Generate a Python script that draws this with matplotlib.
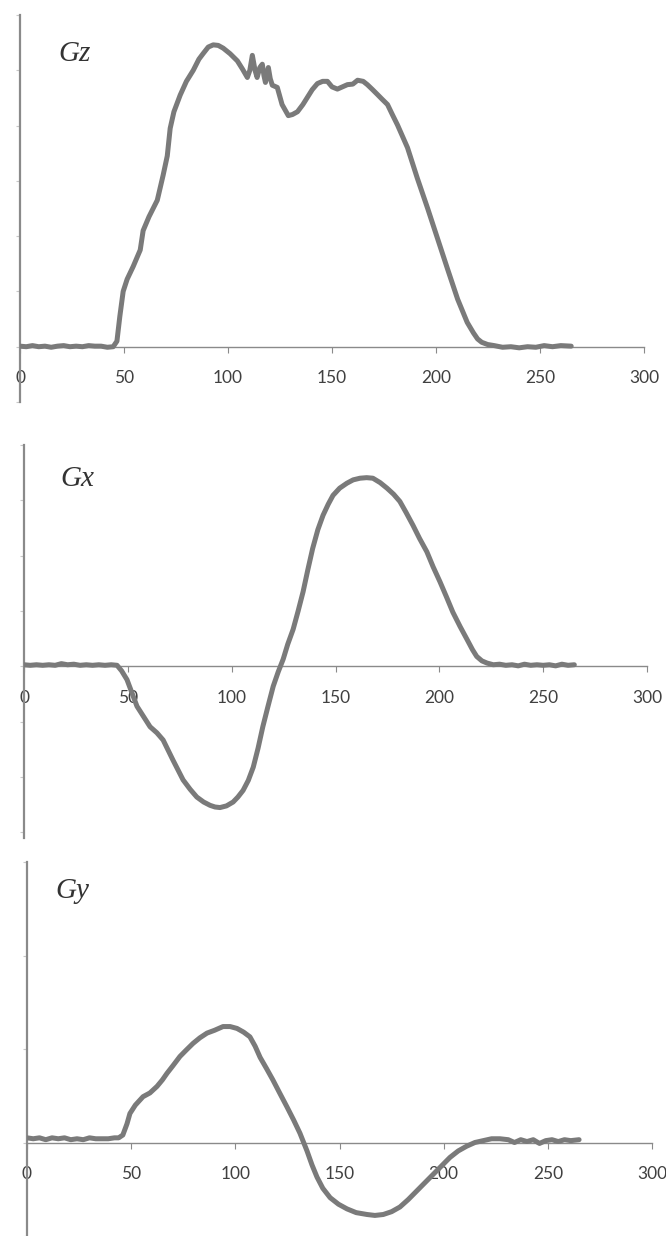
import matplotlib
matplotlib.use("Agg")
import matplotlib.pyplot as plt

# ---------------- data ----------------
gz_x = [0, 3, 6, 9, 12, 15, 18, 21, 24, 27, 30, 33, 36, 39, 42, 44.8, 46.6, 48, 49.6, 51.5,
        54.4, 57.8, 59.2, 62, 66, 68.8, 70.8, 72.2, 74, 77, 80, 83.3, 86, 88, 90.5, 92.9,
        95.3, 97.7, 101, 104.5, 107, 109.3, 110.5, 111.7, 113, 114, 115.3, 116.5, 117.3, 118,
        119.4, 120.3, 121.3, 123.7, 126, 129, 131, 133.4, 136, 138, 140.5, 143, 145.5, 147.8,
        150, 152.6, 155, 157.4, 160, 162.3, 165, 167, 169.5, 171.9, 174, 176.7, 179, 181.5,
        186.3, 191, 196, 200.8, 205.6, 210.4, 215, 218, 220, 222, 224.8, 228, 232, 236, 240,
        244, 248, 252, 256, 260, 265]
gz_y = [0.01, 0.0, 0.02, 0.0, 0.01, -0.01, 0.01, 0.02, 0.0, 0.01, 0.0, 0.02, 0.01, 0.01,
        -0.01, 0.0, 0.1, 0.55, 1.0, 1.22, 1.45, 1.75, 2.1, 2.35, 2.65, 3.1, 3.45, 3.95, 4.25,
        4.55, 4.8, 5.0, 5.2, 5.3, 5.42, 5.46, 5.45, 5.4, 5.3, 5.17, 5.02, 4.87, 5.0, 5.27, 5.0,
        4.87, 5.05, 5.11, 4.9, 4.78, 5.05, 4.85, 4.73, 4.69, 4.38, 4.18, 4.2, 4.25, 4.38, 4.5,
        4.65, 4.76, 4.8, 4.8, 4.7, 4.66, 4.7, 4.74, 4.75, 4.82, 4.8, 4.74, 4.65, 4.56, 4.48,
        4.38, 4.2, 4.01, 3.6, 3.05, 2.5, 1.95, 1.4, 0.86, 0.44, 0.25, 0.14, 0.08, 0.04, 0.02,
        -0.01, 0.0, -0.02, 0.0, -0.01, 0.02, 0.0, 0.02, 0.01]

gx_x = [0, 3, 6, 9, 12, 15, 18, 21, 24, 27, 30, 33, 36, 39, 42, 44.8, 47, 49.6, 54.4, 60.7,
        64, 67, 71.7, 76.6, 80, 83.2, 86.5, 89.6, 92, 94.4, 97.5, 100.7, 103, 105.5, 108,
        110.4, 112.7, 115, 117.5, 120, 122.4, 124.8, 127, 129.6, 132, 134.4, 136.7, 139,
        141.5, 144, 146.5, 148.8, 152, 155.5, 158.5, 161.8, 165, 168, 171.5, 174.8, 178, 181,
        184, 187.3, 190.5, 194, 197, 200.3, 203.5, 206.5, 210, 213.3, 216, 218, 220.5, 223,
        226, 229, 232, 235, 238, 241, 244, 247, 250, 253, 256, 259, 262, 265]
gx_y = [0.03, 0.02, 0.03, 0.02, 0.03, 0.02, 0.05, 0.03, 0.04, 0.02, 0.03, 0.02, 0.03, 0.02,
        0.03, 0.02, -0.08, -0.24, -0.72, -1.09, -1.2, -1.33, -1.69, -2.05, -2.22, -2.36,
        -2.45, -2.51, -2.54, -2.55, -2.52, -2.45, -2.36, -2.24, -2.06, -1.82, -1.48, -1.09,
        -0.72, -0.36, -0.1, 0.13, 0.4, 0.67, 1.0, 1.35, 1.75, 2.13, 2.47, 2.73, 2.93, 3.09,
        3.22, 3.31, 3.37, 3.4, 3.41, 3.4, 3.32, 3.22, 3.11, 2.98, 2.78, 2.55, 2.31, 2.07, 1.8,
        1.53, 1.25, 0.98, 0.72, 0.49, 0.3, 0.18, 0.1, 0.06, 0.03, 0.04, 0.02, 0.03, 0.01, 0.04,
        0.02, 0.03, 0.02, 0.03, 0.01, 0.04, 0.02, 0.03]

gy_x = [0, 3, 6, 9, 12, 15, 18, 21, 24, 27, 30, 33, 36, 39, 42, 44, 46, 48, 49.4, 52, 55.7,
        59, 62.4, 65, 67.2, 70, 73.4, 76.5, 79.7, 83, 86.4, 90, 94.1, 97.5, 100.8, 104, 107,
        109.5, 111.9, 115, 118, 121.5, 124.8, 128, 131, 134.4, 136.8, 139.2, 142, 145.5,
        149.5, 153.6, 158, 163.2, 167, 171, 175, 179, 183, 187, 191, 195, 199, 203, 207, 211,
        215, 219, 223, 227, 231, 234, 237, 240, 243, 246, 249, 252, 255, 258, 261, 265]
gy_y = [0.05, 0.04, 0.05, 0.03, 0.05, 0.04, 0.05, 0.03, 0.04, 0.03, 0.05, 0.04, 0.04, 0.04,
        0.05, 0.05, 0.08, 0.2, 0.31, 0.4, 0.49, 0.53, 0.6, 0.67, 0.74, 0.82, 0.92, 0.99, 1.06,
        1.12, 1.17, 1.2, 1.24, 1.24, 1.22, 1.18, 1.13, 1.03, 0.91, 0.79, 0.67, 0.52, 0.38,
        0.24, 0.1, -0.09, -0.24, -0.37, -0.49, -0.59, -0.66, -0.71, -0.75, -0.77, -0.78,
        -0.77, -0.74, -0.69, -0.61, -0.52, -0.43, -0.34, -0.25, -0.16, -0.09, -0.04, 0.0,
        0.02, 0.04, 0.04, 0.03, 0.0, 0.03, 0.01, 0.03, -0.01, 0.02, 0.03, 0.01, 0.03,
        0.02, 0.03]

x_ticks = [0, 50, 100, 150, 200, 250, 300]
x_tick_labels = ["0", "50", "100", "150", "200", "250", "300"]
panel_labels = ["Gz", "Gx", "Gy"]

# ---------------- layout ----------------
W, H = 666, 1236
fig = plt.figure(figsize=(W / 100, H / 100), dpi=100)
fig.patch.set_facecolor("white")

panels = [
    (gz_x, gz_y, (20, 644, 15, 402), (-1, 6), [-1, 0, 1, 2, 3, 4, 5, 6], (58, 61)),
    (gx_x, gx_y, (24, 647, 445, 838), (-3.1, 4.0), [-3, -2, -1, 0, 1, 2, 3, 4], (60, 486)),
    (gy_x, gy_y, (27, 652, 862, 1236), (-1, 3), [-1, 0, 1, 2, 3], (55, 898)),
]

line_col = "#7a7a7a"
axis_col = "#8a8a8a"
text_col = "#404040"

for (xs, ys, (l, r, t, b), ylim, yt, (tx, ty)), lab in zip(panels, panel_labels):
    ax = fig.add_axes([l / W, 1 - b / H, (r - l) / W, (b - t) / H])
    ax.set_facecolor("none")
    ax.plot(xs, ys, color=line_col, lw=3.6, solid_capstyle="round", solid_joinstyle="round",
            zorder=3)
    ax.set_xlim(0, 300)
    ax.set_ylim(*ylim)
    for s in ("top", "right"):
        ax.spines[s].set_visible(False)
    ax.spines["bottom"].set_position(("data", 0))
    ax.spines["bottom"].set_color(axis_col)
    ax.spines["bottom"].set_linewidth(1.0)
    ax.spines["left"].set_color(axis_col)
    ax.spines["left"].set_linewidth(1.6)
    ax.set_xticks(x_ticks)
    ax.set_xticklabels(x_tick_labels)
    ax.set_yticks(yt)
    ax.set_yticklabels([])
    ax.tick_params(axis="x", direction="out", length=4, width=0.8, color=axis_col,
                   pad=13, labelsize=12.5, labelcolor=text_col)
    ax.tick_params(axis="y", direction="out", length=3, width=0.8, color="#c8c8c8")
    for tl in ax.get_xticklabels():
        tl.set_fontfamily(["Lato", "DejaVu Sans"])
    fig.text(tx / W, 1 - ty / H, lab, fontsize=21, fontstyle="italic",
             family=["Liberation Serif", "DejaVu Serif"], color="#333333", va="baseline",
             ha="left")

fig.savefig("out.png", dpi=100, facecolor="white")
